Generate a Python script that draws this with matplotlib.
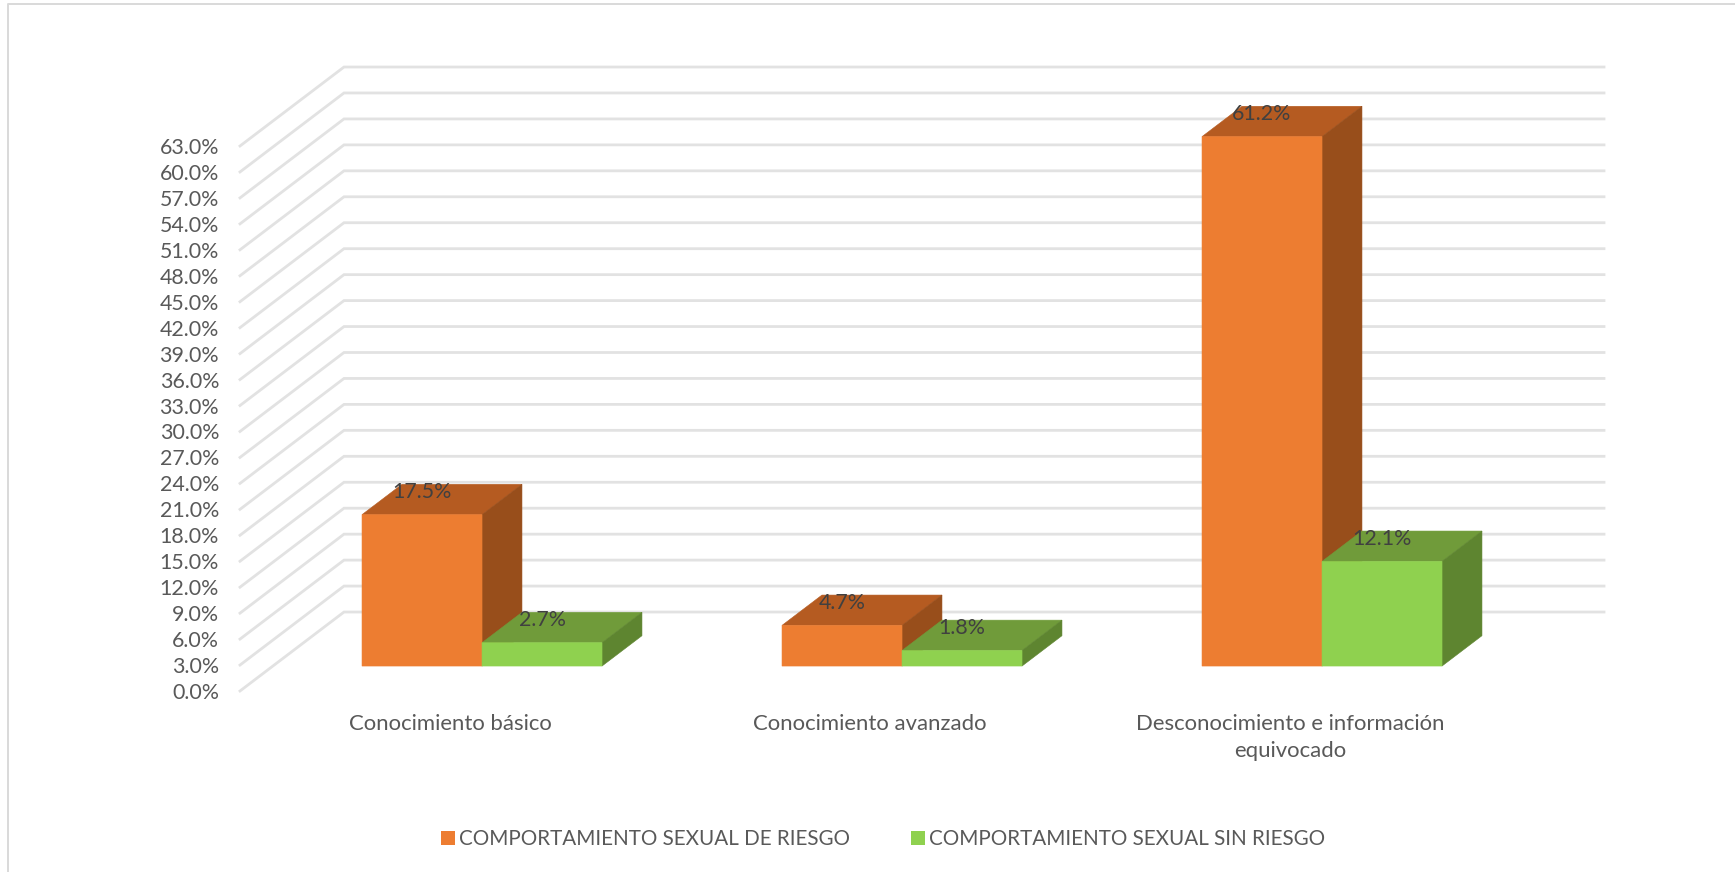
"""Oblique 3D column chart drawn on a flat axes
"""

import matplotlib
matplotlib.use('Agg')
import matplotlib.pyplot as plt
from matplotlib.lines import Line2D
from matplotlib.patches import Patch, Polygon

categories = ['Conocimiento básico', 'Conocimiento avanzado',
              'Desconocimiento e información\nequivocado']
series_names = ['COMPORTAMIENTO SEXUAL DE RIESGO', 'COMPORTAMIENTO SEXUAL SIN RIESGO']
riesgo = [17.5, 4.7, 61.2]
sin_riesgo = [2.7, 1.8, 12.1]
y_ticks = [3 * i for i in range(22)]

W, H = 1735, 872
plt.rcParams['font.family'] = ['Lato', 'DejaVu Sans']
FS = 15.4

# one unit of depth moves this far in data units
DEPTH_X = 104 / 420
DEPTH_Y = 9.13
BAR_W = 120 / 420
D_FRONT = 0.316
D_BACK = 0.70

ORANGE = ('#ED7D31', '#B55B21', '#984E1B')
GREEN = ('#8FD14F', '#709B3A', '#5E8530')
GRID = '#e2e2e2'

fig = plt.figure(figsize=(W / 100, H / 100), dpi=100)
ax = fig.add_axes([240 / W, (H - 691) / H, 1260 / W, 545 / H])
ax.set_xlim(-0.5, 2.5)
ax.set_ylim(0, 63)
for s in ax.spines.values():
    s.set_visible(False)
ax.patch.set_visible(False)

# back wall and side wall gridlines
for t in y_ticks:
    ax.plot([-0.5, -0.5 + DEPTH_X, 2.5 + DEPTH_X], [t, t + DEPTH_Y, t + DEPTH_Y],
            color=GRID, lw=2.0, clip_on=False, zorder=1, solid_joinstyle='miter')

ax.set_yticks(y_ticks)
ax.set_yticklabels([f'{t:.1f}%' for t in y_ticks], fontsize=FS, color='#595959')
ax.set_xticks(range(len(categories)))
ax.set_xticklabels(categories, fontsize=15.9, color='#595959', linespacing=1.42)
ax.tick_params(axis='y', length=0, pad=15)
ax.tick_params(axis='x', length=0, pad=16.5)


def draw_bar(x0, val, colors, z):
    fx0 = x0 + D_FRONT * DEPTH_X
    fx1 = fx0 + BAR_W
    bx0 = x0 + D_BACK * DEPTH_X
    bx1 = bx0 + BAR_W
    y_f = D_FRONT * DEPTH_Y
    y_b = D_BACK * DEPTH_Y
    front = [(fx0, y_f), (fx1, y_f), (fx1, y_f + val), (fx0, y_f + val)]
    top = [(fx0, y_f + val), (fx1, y_f + val), (bx1, y_b + val), (bx0, y_b + val)]
    side = [(fx1, y_f), (bx1, y_b), (bx1, y_b + val), (fx1, y_f + val)]
    for pts, c in zip((top, side, front), (colors[1], colors[2], colors[0])):
        ax.add_patch(Polygon(pts, closed=True, facecolor=c, edgecolor=c, lw=0.4,
                             clip_on=False, zorder=z, snap=False))
    ax.annotate(f'{val:.1f}%', ((fx0 + fx1) / 2, y_b + val), xytext=(0, -5.6),
                textcoords='offset points', ha='center', va='center',
                fontsize=FS, color='#404040', zorder=10, annotation_clip=False)


for i in range(len(categories)):
    left = i - BAR_W - 0.002
    draw_bar(left, riesgo[i], ORANGE, 3)
    draw_bar(left + BAR_W, sin_riesgo[i], GREEN, 4)

handles = [Patch(facecolor=ORANGE[0], edgecolor='none', label=series_names[0]),
           Patch(facecolor=GREEN[0], edgecolor='none', label=series_names[1])]
fig.legend(handles=handles, loc='center', bbox_to_anchor=(883 / W, (H - 839) / H), ncol=2,
           frameon=False, fontsize=14.85, handlelength=0.68, handleheight=0.68,
           handletextpad=0.2, columnspacing=2.95, labelcolor='#595959')

# chart area border, only top and left are visible
fig.add_artist(Line2D([8 / W, 8 / W, 1], [0, (H - 4.5) / H, (H - 4.5) / H],
                      color='#d9d9d9', lw=1.4))

fig.savefig('out.png', dpi=100)
